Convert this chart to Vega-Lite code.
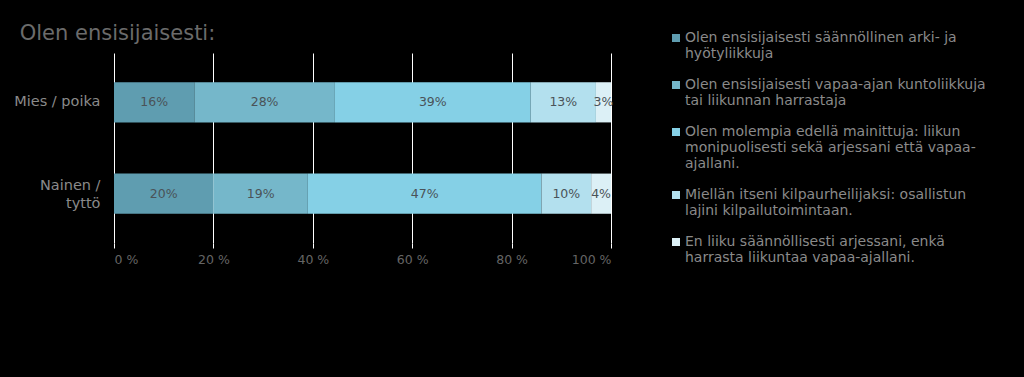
{
  "$schema": "https://vega.github.io/schema/vega-lite/v6.json",
  "width": 497,
  "height": 190,
  "autosize": "none",
  "padding": {"left": 114, "top": 53, "right": 413, "bottom": 134},
  "background": "#000000",
  "title": {
    "text": "Olen ensisijaisesti:",
    "anchor": "start",
    "dx": 6,
    "offset": -13,
    "font": "DejaVu Sans",
    "fontSize": 21,
    "fontWeight": "normal",
    "color": "#6b6b6b"
  },
  "config": {
    "view": {"stroke": null},
    "font": "DejaVu Sans"
  },
  "data": {
    "values": [
      {"group": "Mies / poika", "cat": "c1", "order": 1, "pct": 16},
      {"group": "Mies / poika", "cat": "c2", "order": 2, "pct": 28},
      {"group": "Mies / poika", "cat": "c3", "order": 3, "pct": 39},
      {"group": "Mies / poika", "cat": "c4", "order": 4, "pct": 13},
      {"group": "Mies / poika", "cat": "c5", "order": 5, "pct": 3},
      {"group": "Nainen / tyttö", "cat": "c1", "order": 1, "pct": 20},
      {"group": "Nainen / tyttö", "cat": "c2", "order": 2, "pct": 19},
      {"group": "Nainen / tyttö", "cat": "c3", "order": 3, "pct": 47},
      {"group": "Nainen / tyttö", "cat": "c4", "order": 4, "pct": 10},
      {"group": "Nainen / tyttö", "cat": "c5", "order": 5, "pct": 4}
    ]
  },
  "transform": [
    {"calculate": "datum.pct + '%'", "as": "lab"}
  ],
  "encoding": {
    "y": {
      "field": "group",
      "type": "nominal",
      "sort": ["Mies / poika", "Nainen / tyttö"],
      "scale": {"paddingInner": 0.56, "paddingOuter": 0.32},
      "axis": {
        "title": null,
        "domain": false,
        "ticks": false,
        "labelColor": "#8a8a8a",
        "labelFontSize": 14.5,
        "labelPadding": 14,
        "labelLineHeight": 18,
        "labelOffset": {"condition": {"test": "datum.value == 'Nainen / tyttö'", "value": -8}, "value": 0},
        "labelExpr": "datum.label == 'Nainen / tyttö' ? ['Nainen /', 'tyttö'] : datum.label"
      }
    },
    "x": {
      "field": "pct",
      "type": "quantitative",
      "stack": "normalize",
      "scale": {"domain": [0, 1]},
      "axis": {
        "title": null,
        "values": [0, 0.2, 0.4, 0.6, 0.8, 1],
        "labelExpr": "format(datum.value * 100, 'd') + ' %'",
        "grid": true,
        "gridColor": "#ffffff",
        "gridOpacity": 1,
        "gridWidth": 1,
        "domain": false,
        "ticks": true,
        "tickColor": "#ffffff",
        "tickSize": 5,
        "labelColor": "#656565",
        "labelFontSize": 12.5,
        "labelPadding": 5
      }
    },
    "order": {"field": "order", "type": "quantitative"}
  },
  "layer": [
    {
      "mark": {"type": "bar"},
      "encoding": {
        "color": {
          "field": "cat",
          "type": "nominal",
          "scale": {
            "domain": ["c1", "c2", "c3", "c4", "c5"],
            "range": ["#5f9db0", "#75b7ca", "#85d0e6", "#b3e0ee", "#dcf0f6"]
          },
          "legend": {
            "title": null,
            "orient": "none",
            "legendX": 555,
            "legendY": -22,
            "symbolType": "square",
            "symbolSize": 64,
            "symbolStrokeWidth": 0,
            "labelColor": "#8a8a8a",
            "labelFontSize": 14,
            "labelLineHeight": 18,
            "labelOffset": 2,
            "labelLimit": 400,
            "rowPadding": 17,
            "labelExpr": "datum.label == 'c1' ? ['Olen ensisijaisesti säännöllinen arki- ja', 'hyötyliikkuja'] : datum.label == 'c2' ? ['Olen ensisijaisesti vapaa-ajan kuntoliikkuja', 'tai liikunnan harrastaja'] : datum.label == 'c3' ? ['Olen molempia edellä mainittuja: liikun', 'monipuolisesti sekä arjessani että vapaa-', 'ajallani.'] : datum.label == 'c4' ? ['Miellän itseni kilpaurheilijaksi: osallistun', 'lajini kilpailutoimintaan.'] : ['En liiku säännöllisesti arjessani, enkä', 'harrasta liikuntaa vapaa-ajallani.']"
          }
        }
      }
    },
    {
      "mark": {"type": "text", "color": "#4a5358", "fontSize": 12.5},
      "encoding": {
        "x": {"field": "pct", "type": "quantitative", "stack": "normalize", "bandPosition": 0.5},
        "text": {"field": "lab", "type": "nominal"},
        "detail": {"field": "cat"}
      }
    }
  ]
}
